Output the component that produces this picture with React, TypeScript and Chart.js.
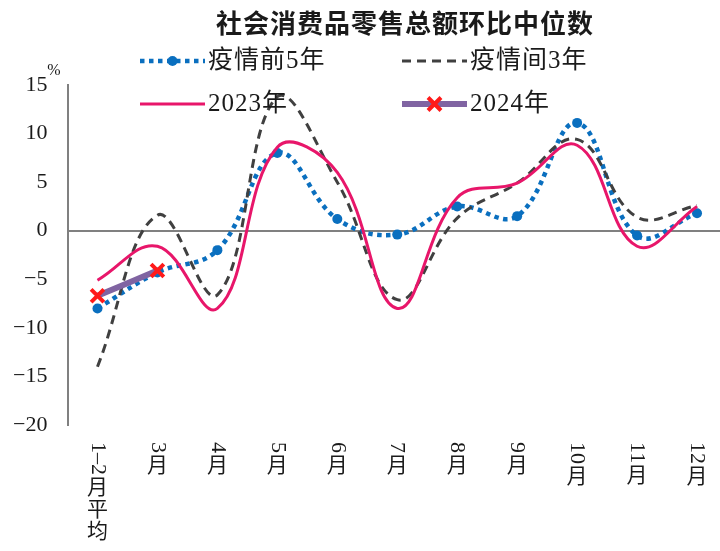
import React, { useEffect, useRef } from "react";
import { Chart, registerables } from "chart.js";

Chart.register(...registerables);

const chartTitle = "社会消费品零售总额环比中位数";
const unitLabel = "%";
const categories = ["1–2月平均", "3月", "4月", "5月", "6月", "7月", "8月", "9月", "10月", "11月", "12月"];
const seriesNames = ["疫情前5年", "疫情间3年", "2023年", "2024年"];
const pre5Years = [-8.0, -4.3, -2.0, 8.0, 1.2, -0.4, 2.5, 1.5, 11.1, -0.5, 1.8];
const during3Years = [-14.0, 1.6, -6.6, 13.8, 5.0, -7.1, 1.3, 4.9, 9.4, 1.4, 2.6];
const year2023 = [-5.1, -1.6, -8.0, 8.6, 6.0, -8.0, 3.4, 4.9, 8.8, -1.6, 2.5];
const year2024 = [-6.7, -4.1];
const yTicks = [-20, -15, -10, -5, 0, 5, 10, 15];

const LATIN_FONT = "'Liberation Serif', 'Noto Sans CJK SC', serif";
const CJK_FONT = "'Noto Sans CJK SC', 'Liberation Serif', sans-serif";

const BLUE = "#0A6FBF";
const DARK = "#404040";
const PINK = "#E8166A";
const PURPLE = "#8064A2";
const RED = "#FF1A1A";

function isCJK(ch: string) {
  return ch.charCodeAt(0) >= 0x2e80;
}

function drawVerticalLabel(ctx: CanvasRenderingContext2D, text: string, x: number, yStart: number, size: number) {
  let y = yStart;
  let run = "";
  const flush = () => {
    if (!run) return;
    ctx.save();
    ctx.font = `${size}px ${LATIN_FONT}`;
    ctx.translate(x, y);
    ctx.rotate(Math.PI / 2);
    ctx.textAlign = "left";
    ctx.textBaseline = "middle";
    ctx.fillText(run, 0, 0);
    const w = ctx.measureText(run).width;
    ctx.restore();
    y += w;
    run = "";
  };
  for (const ch of Array.from(text)) {
    if (isCJK(ch)) {
      flush();
      ctx.save();
      ctx.font = `${size - 1}px ${CJK_FONT}`;
      ctx.textAlign = "center";
      ctx.textBaseline = "middle";
      ctx.fillText(ch, x, y + size / 2);
      ctx.restore();
      y += size;
    } else {
      run += ch;
    }
  }
  flush();
}

function drawLegendSample(ctx: CanvasRenderingContext2D, ds: any, x0: number, x1: number, y: number) {
  ctx.save();
  ctx.strokeStyle = ds.borderColor;
  ctx.lineWidth = ds.borderWidth;
  ctx.setLineDash(ds.borderDash || []);
  ctx.lineCap = "butt";
  ctx.beginPath();
  ctx.moveTo(x0, y);
  ctx.lineTo(x1, y);
  ctx.stroke();
  ctx.setLineDash([]);
  const cx = (x0 + x1) / 2;
  if (ds.pointRadius > 0) {
    if (ds.pointStyle === "crossRot") {
      const r = ds.pointRadius * 0.72;
      ctx.strokeStyle = ds.pointBorderColor;
      ctx.lineWidth = ds.pointBorderWidth;
      ctx.beginPath();
      ctx.moveTo(cx - r, y - r);
      ctx.lineTo(cx + r, y + r);
      ctx.moveTo(cx + r, y - r);
      ctx.lineTo(cx - r, y + r);
      ctx.stroke();
    } else {
      ctx.fillStyle = ds.pointBackgroundColor;
      ctx.beginPath();
      ctx.arc(cx, y, ds.pointRadius, 0, Math.PI * 2);
      ctx.fill();
    }
  }
  ctx.restore();
}

const decorPlugin = {
  id: "decor",
  afterDraw(chart: any) {
    const ctx: CanvasRenderingContext2D = chart.ctx;
    const xScale = chart.scales.x;
    ctx.save();
    ctx.fillStyle = "#1a1a1a";
    // title
    ctx.font = `bold 26px ${CJK_FONT}`;
    (ctx as any).letterSpacing = "1px";
    ctx.textAlign = "center";
    ctx.textBaseline = "middle";
    ctx.fillText(chartTitle, 405, 23);
    (ctx as any).letterSpacing = "0px";

    // legend (2 x 2)
    const ds = chart.data.datasets;
    const cols = [140, 402];
    const rows = [61, 104];
    for (let i = 0; i < ds.length; i++) {
      const cx = cols[i % 2];
      const cy = rows[Math.floor(i / 2)];
      drawLegendSample(ctx, ds[i], cx, cx + 65, cy);
      ctx.fillStyle = "#1a1a1a";
      ctx.font = `25px ${LATIN_FONT}`;
      (ctx as any).letterSpacing = "1px";
      ctx.textAlign = "left";
      ctx.textBaseline = "middle";
      ctx.fillText(ds[i].label, cx + 68, cy);
      (ctx as any).letterSpacing = "0px";
    }

    // unit
    ctx.font = `16px ${LATIN_FONT}`;
    ctx.textAlign = "center";
    ctx.textBaseline = "middle";
    ctx.fillText(unitLabel, 54, 71);

    // x labels, vertical writing
    ctx.fillStyle = "#1a1a1a";
    categories.forEach((c, i) => {
      drawVerticalLabel(ctx, c, xScale.getPixelForValue(i), 442, 22);
    });
    ctx.restore();
  },
};

export default function App() {
  const ref = useRef<HTMLCanvasElement>(null);
  useEffect(() => {
    if (!ref.current) return;
    const chart = new Chart(ref.current, {
      type: "line",
      data: {
        labels: categories,
        datasets: [
          {
            label: seriesNames[0],
            data: pre5Years,
            borderColor: BLUE,
            borderWidth: 4.5,
            borderDash: [4.5, 4.5],
            borderCapStyle: "butt",
            pointRadius: 5,
            pointBackgroundColor: BLUE,
            pointBorderWidth: 0,
            pointStyle: "circle",
            tension: 0.4,
            order: 4,
          },
          {
            label: seriesNames[1],
            data: during3Years,
            borderColor: DARK,
            borderWidth: 3,
            borderDash: [9, 6],
            pointRadius: 0,
            tension: 0.4,
            order: 3,
          },
          {
            label: seriesNames[2],
            data: year2023,
            borderColor: PINK,
            borderWidth: 3,
            pointRadius: 0,
            tension: 0.4,
            order: 2,
          },
          {
            label: seriesNames[3],
            data: year2024,
            borderColor: PURPLE,
            borderWidth: 6,
            pointRadius: 9,
            pointStyle: "crossRot",
            pointBorderColor: RED,
            pointBackgroundColor: RED,
            pointBorderWidth: 4,
            tension: 0.4,
            order: 1,
          },
        ] as any,
      },
      options: {
        responsive: false,
        animation: false,
        layout: { padding: { top: 85, bottom: 126, left: 0, right: 12 } },
        plugins: {
          legend: { display: false },
          title: { display: false },
          tooltip: { enabled: false },
        },
        scales: {
          x: { type: "category", display: false, offset: true },
          y: {
            min: -20,
            max: 15,
            afterFit: (s: any) => {
              s.width = 67.5;
            },
            afterBuildTicks: (s: any) => {
              s.ticks = yTicks.map((v) => ({ value: v }));
            },
            border: { display: true, color: "#808080", width: 2 },
            grid: {
              drawTicks: false,
              lineWidth: 2,
              color: (c: any) => (c.tick && c.tick.value === 0 ? "#808080" : "rgba(0,0,0,0)"),
            },
            ticks: {
              padding: 20,
              color: "#1a1a1a",
              font: { family: LATIN_FONT, size: 22 },
              callback: (v: any) => (Number(v) < 0 ? "−" + Math.abs(Number(v)) : String(v)),
            },
          },
        },
      },
      plugins: [decorPlugin],
    });
    return () => chart.destroy();
  }, []);
  return (
    <div style={{ position: "absolute", left: 0, top: 0, width: 720, height: 551, overflow: "hidden", background: "#fff" }}>
      <canvas ref={ref} width={740} height={551} style={{ display: "block" }} />
    </div>
  );
}
